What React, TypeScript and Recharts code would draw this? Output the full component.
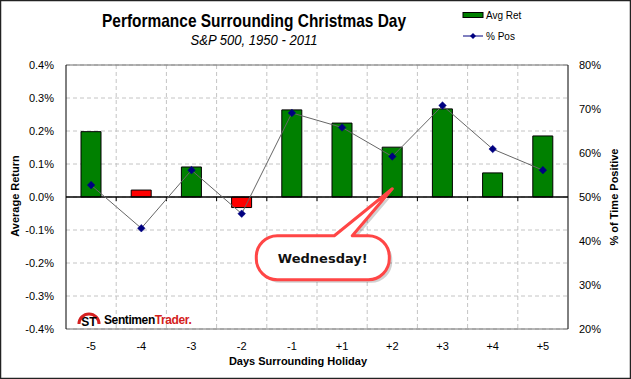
import React from 'react';
import {
  ComposedChart, Bar, Line, XAxis, YAxis, CartesianGrid, ReferenceLine, ReferenceDot, Cell,
} from 'recharts';

const days = ['-5', '-4', '-3', '-2', '-1', '+1', '+2', '+3', '+4', '+5'];
const avgRet = [0.198, 0.021, 0.091, -0.032, 0.264, 0.224, 0.151, 0.267, 0.073, 0.185];
const pctPos = [52.7, 42.9, 56.1, 46.2, 69.1, 65.8, 59.2, 70.8, 60.9, 56.1];
const leftTicks = [-0.4, -0.3, -0.2, -0.1, 0, 0.1, 0.2, 0.3, 0.4];
const rightTicks = [20, 30, 40, 50, 60, 70, 80];
const calloutDay = '+2';
const calloutValue = 0.025;

const data = days.map((d, i) => ({ day: d, ret: avgRet[i], pos: pctPos[i] }));

const W = 631;
const H = 379;
const FONT = '"Liberation Sans", Arial, sans-serif';

const Diamond = (props: any) => {
  const { cx, cy } = props;
  if (cx == null || cy == null) return null;
  const r = 3.8;
  return (
    <polygon
      points={`${cx},${cy - r} ${cx + r},${cy} ${cx},${cy + r} ${cx - r},${cy}`}
      fill="#000080"
      stroke="#000080"
      strokeWidth={0.5}
    />
  );
};

const ZeroLine = (props: any) => {
  const { x1, y1, x2, y2 } = props;
  const n = days.length;
  const step = (x2 - x1) / n;
  const ticks = [];
  for (let i = 1; i < n; i++) {
    const x = x1 + i * step;
    ticks.push(<line key={i} x1={x} y1={y1} x2={x} y2={y1 + 4} stroke="#000" strokeWidth={1} />);
  }
  return (
    <g>
      <line x1={x1} y1={y1} x2={x2} y2={y2} stroke="#000" strokeWidth={1.5} />
      {ticks}
    </g>
  );
};

const Callout = (props: any) => {
  const { cx, cy } = props;
  if (cx == null || cy == null) return null;
  const L = cx - 136, R = cx - 3, T = cy + 47, B = cy + 91, r = 21;
  const d = `M ${cx - 58} ${T} L ${cx} ${cy} L ${cx - 40} ${T} L ${R - r} ${T} A ${r} ${r} 0 0 1 ${R} ${T + r} L ${R} ${B - r} A ${r} ${r} 0 0 1 ${R - r} ${B} L ${L + r} ${B} A ${r} ${r} 0 0 1 ${L} ${B - r} L ${L} ${T + r} A ${r} ${r} 0 0 1 ${L + r} ${T} Z`;
  return (
    <g>
      <path d={d} transform="translate(3,3)" fill="#000" opacity={0.18} />
      <path d={d} fill="#fff" stroke="#ff4646" strokeWidth={3} strokeLinejoin="round" />
      <text
        x={(L + R) / 2}
        y={cy + 74}
        textAnchor="middle"
        fontFamily={'"DejaVu Sans", Verdana, sans-serif'}
        fontWeight="bold"
        fontSize={13}
        fill="#111"
      >
        Wednesday!
      </text>
    </g>
  );
};

export default function App() {
  return (
    <div style={{ position: 'absolute', left: 0, top: 0, width: W, height: H, background: '#fff', fontFamily: FONT }}>
      <ComposedChart
        width={W}
        height={H}
        data={data}
        margin={{ top: 65, right: 10, bottom: 20, left: 10 }}
        barSize={20}
      >
        <CartesianGrid
          yAxisId="left"
          stroke="#c4c4c4"
          strokeDasharray="4 3"
          verticalCoordinatesGenerator={({ offset }: any) => {
            const res: number[] = [];
            for (let i = 1; i < days.length; i++) res.push(offset.left + (i * offset.width) / days.length);
            return res;
          }}
        />
        <XAxis
          dataKey="day"
          tickLine={false}
          axisLine={{ stroke: '#707070' }}
          tick={{ fontSize: 11, fill: '#000', fontFamily: FONT }}
          tickMargin={7}
          height={30}
          interval={0}
        />
        <YAxis
          yAxisId="left"
          domain={[-0.4, 0.4]}
          ticks={leftTicks}
          tickFormatter={(v: number) => `${v.toFixed(1)}%`}
          tickLine={false}
          axisLine={{ stroke: '#000' }}
          tick={{ fontSize: 11, fill: '#000', fontFamily: FONT }}
          tickMargin={6}
          width={56}
          allowDataOverflow
        />
        <YAxis
          yAxisId="right"
          orientation="right"
          domain={[20, 80]}
          ticks={rightTicks}
          tickFormatter={(v: number) => `${v}%`}
          tickLine={false}
          axisLine={{ stroke: '#000' }}
          tick={{ fontSize: 11, fill: '#000', fontFamily: FONT }}
          tickMargin={5}
          width={53}
        />
        <ReferenceLine yAxisId="left" y={0.4} stroke="#707070" strokeWidth={1} />
        <Bar yAxisId="left" dataKey="ret" stroke="#000" strokeWidth={1} isAnimationActive={false}>
          {data.map((d, i) => (
            <Cell key={i} fill={d.pos >= 50 ? '#008000' : '#ff0000'} />
          ))}
        </Bar>
        <ReferenceLine yAxisId="left" y={0} shape={ZeroLine} />
        <Line
          yAxisId="right"
          dataKey="pos"
          stroke="#666"
          strokeWidth={1}
          dot={<Diamond />}
          activeDot={false}
          isAnimationActive={false}
        />
        <ReferenceDot yAxisId="left" x={calloutDay} y={calloutValue} shape={Callout} />
      </ComposedChart>
      <svg width={W} height={H} style={{ position: 'absolute', left: 0, top: 0, pointerEvents: 'none' }}>
        <rect x={0.5} y={0.5} width={W - 1} height={H - 1} fill="none" stroke="#222" strokeWidth={1.5} />
        <text x={254} y={27} textAnchor="middle" fontFamily={FONT} fontWeight="bold" fontSize={19} textLength={304} lengthAdjust="spacingAndGlyphs" fill="#000">
          Performance Surrounding Christmas Day
        </text>
        <text x={254} y={45} textAnchor="middle" fontFamily={FONT} fontStyle="italic" fontSize={15} textLength={127} lengthAdjust="spacingAndGlyphs" fill="#000">
          S&amp;P 500, 1950 - 2011
        </text>
        <rect x={463} y={12.5} width={20} height={5} fill="#008000" stroke="#000" strokeWidth={1} />
        <text x={486} y={19} fontFamily={FONT} fontSize={10} fill="#000">Avg Ret</text>
        <line x1={463} y1={36} x2={483} y2={36} stroke="#000080" strokeWidth={1} />
        <polygon points="473,33 476,36 473,39 470,36" fill="#000080" />
        <text x={486} y={40} fontFamily={FONT} fontSize={10} fill="#000">% Pos</text>
        <text transform="translate(19,196) rotate(-90)" textAnchor="middle" fontFamily={FONT} fontWeight="bold" fontSize={11} fill="#000">
          Average Return
        </text>
        <text transform="translate(618,197) rotate(-90)" textAnchor="middle" fontFamily={FONT} fontWeight="bold" fontSize={11} fill="#000">
          % of Time Positive
        </text>
        <text x={298} y={365} textAnchor="middle" fontFamily={FONT} fontWeight="bold" fontSize={11} fill="#000">
          Days Surrounding Holiday
        </text>
        <g>
          <path d="M 79 324 A 10 10 0 1 1 99 324" fill="none" stroke="#d42020" strokeWidth={3} />
          <text x={89} y={326} textAnchor="middle" fontFamily={FONT} fontWeight="bold" fontSize={12} fill="#000">ST</text>
          <text x={104} y={324} fontFamily={FONT} fontWeight="bold" fontSize={12} letterSpacing={-0.4} fill="#000">
            Sentimen<tspan fill="#d42020">Trader.</tspan>
          </text>
        </g>
      </svg>
    </div>
  );
}
